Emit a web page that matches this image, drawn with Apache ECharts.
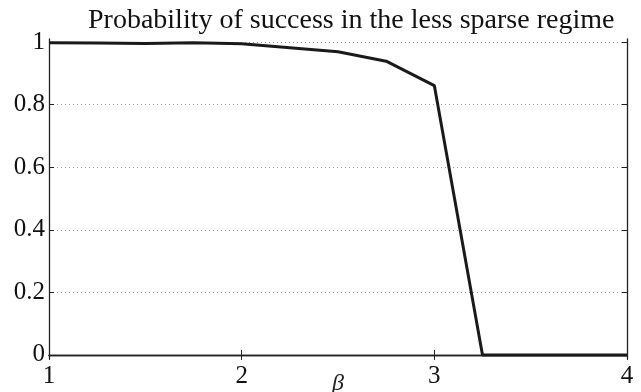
<!DOCTYPE html>
<html>
<head>
<meta charset="utf-8">
<script src="https://cdn.jsdelivr.net/npm/echarts@6/dist/echarts.min.js"></script>
<style>
  html, body { margin: 0; padding: 0; background: #fff; }
  #main { width: 641px; height: 392px; }
</style>
</head>
<body>
<div id="main"></div>
<script>
// beta values and success probability
var beta = [1, 1.25, 1.5, 1.75, 2, 2.25, 2.5, 2.75, 3, 3.25, 3.5, 3.75, 4];
var success = [0.998, 0.997, 0.996, 0.998, 0.995, 0.982, 0.969, 0.939, 0.861, 0, 0, 0, 0];
var xTicks = [1, 2, 3, 4];
var yTicks = [0, 0.2, 0.4, 0.6, 0.8, 1];

var myChart = echarts.init(document.getElementById('main'));

var axisColor = '#222';
var serif = '"Liberation Serif", "DejaVu Serif", serif';

myChart.setOption({
  animation: false,
  title: {
    text: 'Probability of success in the less sparse regime',
    left: 83,
    top: 2,
    textStyle: {
      fontFamily: serif,
      fontWeight: 'normal',
      fontSize: 28,
      color: '#111'
    }
  },
  grid: {
    left: 49,
    right: 14,
    top: 39,
    bottom: 33,
    outerBoundsMode: 'none',
    containLabel: false
  },
  xAxis: [
    {
      type: 'value',
      min: 1,
      max: 4,
      interval: 1,
      name: 'β',
      nameLocation: 'middle',
      nameGap: 13,
      nameMoveOverlap: false,
      nameTextStyle: {
        fontFamily: serif,
        fontStyle: 'italic',
        fontSize: 24,
        color: '#222'
      },
      axisLine: { lineStyle: { color: axisColor, width: 1.3 } },
      axisTick: { inside: true, length: 5, customValues: xTicks, lineStyle: { color: axisColor } },
      axisLabel: {
        customValues: xTicks,
        margin: 5,
        fontFamily: serif,
        fontSize: 25,
        color: '#111',
        showMinLabel: true,
        showMaxLabel: true
      },
      splitLine: { show: false }
    },
    {
      type: 'value',
      position: 'top',
      min: 1,
      max: 4,
      interval: 1,
      axisLine: { lineStyle: { color: axisColor, width: 1.3 } },
      axisTick: { inside: true, length: 5, lineStyle: { color: axisColor } },
      axisLabel: { show: false },
      splitLine: { show: false }
    }
  ],
  yAxis: [
    {
      type: 'value',
      min: -0.013,
      max: 1.01,
      axisLine: { show: true, lineStyle: { color: axisColor, width: 1.3 } },
      axisTick: { show: true, inside: true, length: 5, customValues: yTicks, lineStyle: { color: axisColor } },
      axisLabel: {
        customValues: yTicks,
        margin: 4,
        fontFamily: serif,
        fontSize: 25,
        color: '#111'
      },
      splitLine: {
        show: true,
        lineStyle: { color: '#999', type: [1, 3], width: 1 }
      }
    },
    {
      type: 'value',
      position: 'right',
      min: -0.013,
      max: 1.01,
      axisLine: { show: true, lineStyle: { color: axisColor, width: 1.3 } },
      axisTick: { show: true, inside: true, length: 5, customValues: yTicks, lineStyle: { color: axisColor } },
      axisLabel: { show: false },
      splitLine: { show: false }
    }
  ],
  series: [
    {
      type: 'line',
      data: beta.map(function (b, i) { return [b, success[i]]; }),
      showSymbol: false,
      symbol: 'none',
      lineStyle: { color: '#1a1a1a', width: 3 }
    }
  ]
});
</script>
</body>
</html>
